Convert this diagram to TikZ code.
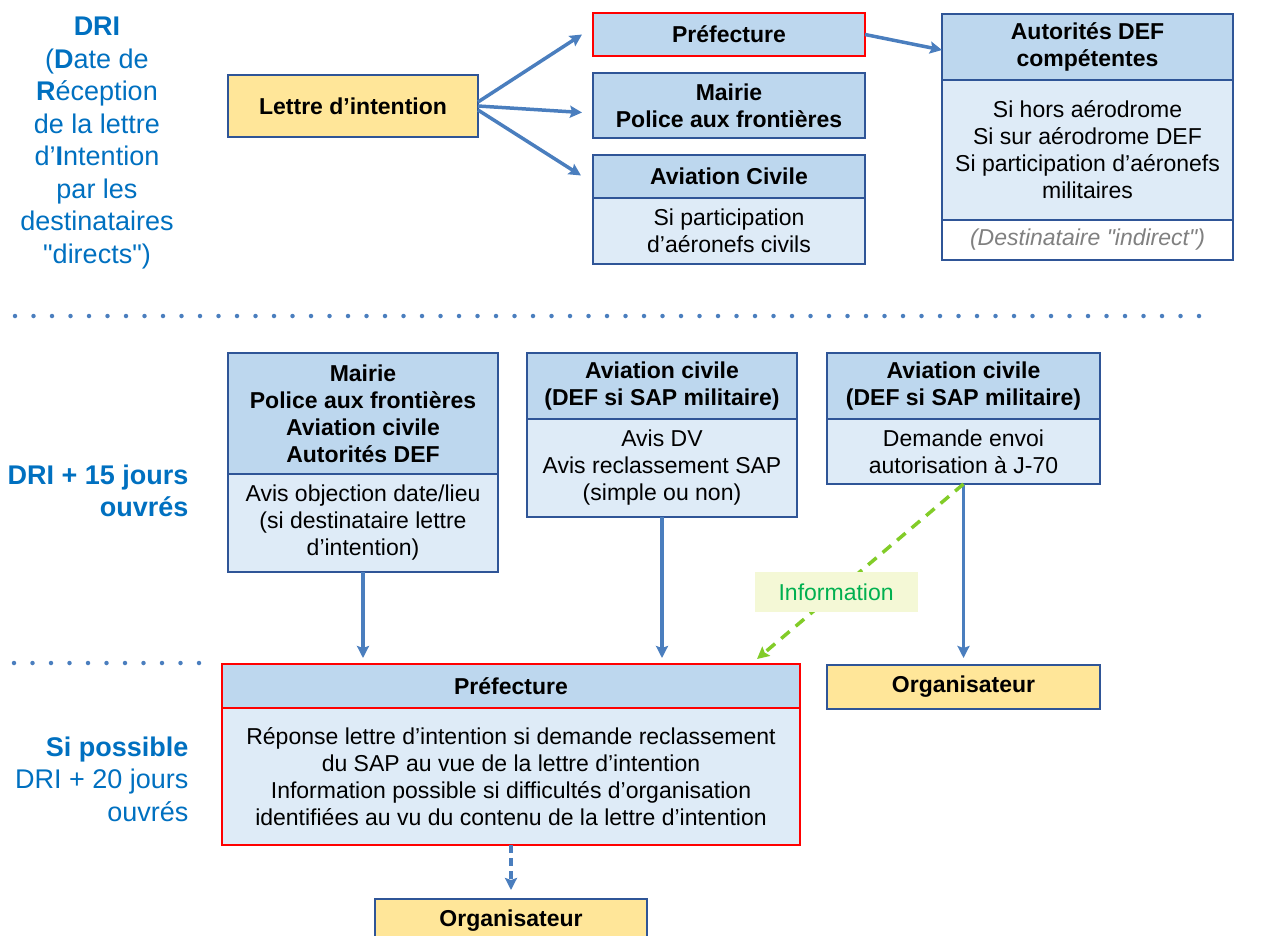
\documentclass[tikz,border=0pt]{standalone}
\usepackage{fontspec}
\setmainfont{Liberation Sans}
\newfontfamily\quotefont{Liberation Sans}
\newcommand{\dquote}{{\quotefont\char34}}
\usepackage{tikz}
\usetikzlibrary{arrows.meta}
\usetikzlibrary{positioning}
\definecolor{myblue}{RGB}{47,85,151}
\definecolor{myheadblue}{RGB}{189,215,238}
\definecolor{mybodyblue}{RGB}{222,235,247}
\definecolor{myyellow}{RGB}{255,230,153}
\definecolor{myred}{RGB}{255,0,0}
\definecolor{myarrowblue}{RGB}{74,126,190}
\definecolor{mytextblue}{RGB}{0,112,192}
\definecolor{mygreen}{RGB}{0,176,80}
\definecolor{mylightgreen}{RGB}{130,204,40}
\definecolor{mypalegreen}{RGB}{244,248,214}
\definecolor{mygray}{RGB}{128,128,128}

\tikzset{
	box/.style={draw=myblue, line width=2pt, outer sep=0pt, inner sep=2pt, align=center, font=\fontsize{23}{27}\selectfont},
	head/.style={box, fill=myheadblue, font=\fontsize{23}{27}\selectfont\bfseries},
	body/.style={box, fill=mybodyblue},
	orga/.style={box, fill=myyellow, font=\fontsize{23}{27}\selectfont\bfseries},
	period/.style={text=mytextblue, align=right, font=\fontsize{27}{32.5}\selectfont},
	flow/.style={-{Stealth[length=12pt,width=12pt,inset=2pt]}, line width=3.5pt, draw=myarrowblue},
	infoflow/.style={-{Stealth[length=12pt,width=12pt,inset=2pt]}, line width=3.5pt, draw=mylightgreen, dash pattern=on 11pt off 8pt},
	infobox/.style={fill=mypalegreen, text=mygreen, minimum width=163pt, minimum height=40pt, font=\fontsize{23}{27}\selectfont},
	sep/.style={draw=myarrowblue, line width=4.5pt, line cap=round, dash pattern=on 0pt off 18.5pt},
}

\begin{document}
\begin{tikzpicture}[x=1pt, y=-1pt]
	\useasboundingbox (0,0) rectangle (1263,935);

	\node[period, align=center] (driA) at (97,143) {\textbf{DRI}\\(\textbf{D}ate de\\\textbf{R}éception\\de la lettre\\d’\textbf{I}ntention\\par les\\destinataires\\\dquote directs\dquote)};

	\node[orga, minimum width=250pt, minimum height=62pt] (lettre) at (353,106) {Lettre d’intention};
	\node[head, draw=myred, minimum width=272pt, minimum height=43pt] (prefA) at (729,34.5) {Préfecture};
	\node[head, minimum width=272pt, minimum height=65pt] (mairieA) at (729,105.5) {Mairie\\Police aux frontières};
	\node[head, minimum width=272pt, minimum height=43pt] (avcA) at (729,176.5) {Aviation Civile};
	\node[body, minimum width=272pt, minimum height=66pt, below=0pt of avcA] (avcAtxt) {Si participation\\d’aéronefs civils};
	\node[head, minimum width=291pt, minimum height=66pt] (defA) at (1087.5,47) {Autorités DEF\\compétentes};
	\node[body, minimum width=291pt, minimum height=140pt, below=0pt of defA] (defAtxt) {Si hors aérodrome\\Si sur aérodrome DEF\\Si participation d’aéronefs\\militaires};
	\node[box, fill=white, text=mygray, font=\fontsize{23}{27}\selectfont\itshape, minimum width=291pt, minimum height=40pt, below=0pt of defAtxt] (defAind) {(Destinataire \dquote indirect\dquote)};

	\draw[flow] ([yshift=4pt]lettre.east) -- ([xshift=-11pt]prefA.west);
	\draw[flow] (lettre.east) -- ([xshift=-11pt,yshift=-7pt]mairieA.west);
	\draw[flow] ([yshift=-4pt]lettre.east) -- ([xshift=-12pt,yshift=1pt]avcA.west);
	\draw[flow] (prefA.east) -- ([yshift=-3pt]defA.west);

	\draw[sep] (15,316) -- (1200,316);

	\node[period, anchor=east] (driB) at (192,491) {\textbf{DRI + 15 jours}\\\textbf{ouvrés}};
	\node[head, minimum width=270pt, minimum height=121pt] (mairieB) at (363,413.5) {Mairie\\Police aux frontières\\Aviation civile\\Autorités DEF};
	\node[body, minimum width=270pt, minimum height=98pt, below=0pt of mairieB] (mairieBtxt) {Avis objection date/lieu\\(si destinataire lettre\\d’intention)};
	\node[head, minimum width=270pt, minimum height=66pt] (avcB) at (662,386) {Aviation civile\\(DEF si SAP militaire)};
	\node[body, minimum width=270pt, minimum height=98pt, below=0pt of avcB] (avcBtxt) {Avis DV\\Avis reclassement SAP\\(simple ou non)};
	\node[head, minimum width=273pt, minimum height=66pt] (avcC) at (963.5,386) {Aviation civile\\(DEF si SAP militaire)};
	\node[body, minimum width=273pt, minimum height=65pt, below=0pt of avcC] (avcCtxt) {Demande envoi\\autorisation à J-70};

	\draw[sep] (14,663) -- (200,663);

	\node[period, anchor=east] (driC) at (192,779) {\textbf{Si possible}\\DRI + 20 jours\\ouvrés};
	\node[head, draw=myred, minimum width=578pt, minimum height=44pt] (prefB) at (511,686) {Préfecture};
	\node[body, draw=myred, minimum width=578pt, minimum height=137pt, below=0pt of prefB] (prefBtxt) {Réponse lettre d’intention si demande reclassement\\du SAP au vue de la lettre d’intention\\Information possible si difficultés d’organisation\\identifiées au vu du contenu de la lettre d’intention};
	\node[orga, minimum width=273pt, minimum height=44pt] (orgC) at (963.5,687) {Organisateur};
	\node[orga, minimum width=272pt, minimum height=44pt] (orgB) at (511,921) {Organisateur};

	\draw[flow, shorten >=6pt] (mairieBtxt.south) -- (mairieBtxt.south |- prefB.north);
	\draw[flow, shorten >=6pt] (avcBtxt.south) -- (avcBtxt.south |- prefB.north);
	\draw[flow, shorten >=7pt] (avcCtxt.south) -- (orgC.north);
	\draw[infoflow] (avcCtxt.south) -- node[infobox, pos=0.617] (info) {Information} ([xshift=-43pt,yshift=5pt]prefB.north east);
	\draw[flow, dash pattern=on 8pt off 5pt, shorten >=9pt] (prefBtxt.south) -- (orgB.north);
\end{tikzpicture}
\end{document}
